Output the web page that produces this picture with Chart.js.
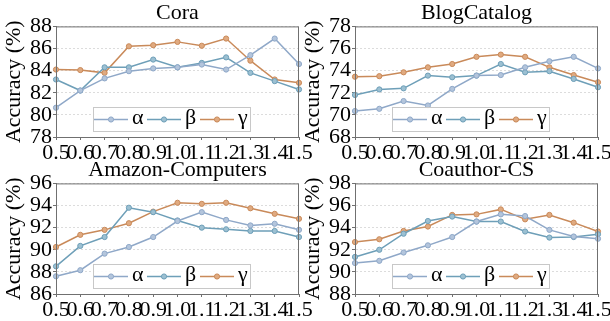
<!DOCTYPE html>
<html>
<head>
<meta charset="utf-8">
<script src="https://cdn.jsdelivr.net/npm/chart.js@4/dist/chart.umd.min.js"></script>
<style>
  html, body { margin: 0; padding: 0; background: #fff; overflow: hidden; }
  #wrap { position: relative; width: 610px; height: 321px; }
  .panel { position: absolute; width: 315px; height: 160px; }
</style>
</head>
<body>
<div id="wrap">
  <div class="panel" style="left:0;top:0"><canvas id="c1"></canvas></div>
  <div class="panel" style="left:299px;top:0"><canvas id="c2"></canvas></div>
  <div class="panel" style="left:0;top:157px"><canvas id="c3"></canvas></div>
  <div class="panel" style="left:299px;top:157px"><canvas id="c4"></canvas></div>
</div>
<script>
// x values (shared by all panels)
const xLabels = ['0.5', '0.6', '0.7', '0.8', '0.9', '1.0', '1.1', '1.2', '1.3', '1.4', '1.5'];
const seriesNames = ['α', 'β', 'γ'];

// Cora
const coraAlpha = [80.65, 82.2, 83.3, 83.95, 84.2, 84.3, 84.55, 84.1, 85.4, 86.9, 84.6];
const coraBeta  = [83.2, 82.2, 84.3, 84.3, 85.0, 84.3, 84.7, 85.2, 83.8, 83.05, 82.3];
const coraGamma = [84.1, 84.05, 83.8, 86.2, 86.3, 86.6, 86.25, 86.9, 84.9, 83.2, 82.9];

// BlogCatalog
const blogAlpha = [70.35, 70.55, 71.25, 70.85, 72.35, 73.55, 73.6, 74.3, 74.85, 75.25, 74.2];
const blogBeta  = [71.8, 72.3, 72.4, 73.55, 73.4, 73.55, 74.6, 73.85, 73.95, 73.25, 72.5];
const blogGamma = [73.45, 73.5, 73.85, 74.3, 74.6, 75.25, 75.45, 75.25, 74.3, 73.6, 72.95];

// Amazon-Computers
const amazonAlpha = [87.6, 88.15, 89.65, 90.25, 91.15, 92.6, 93.4, 92.7, 92.2, 92.35, 91.8];
const amazonBeta  = [88.5, 90.35, 91.15, 93.8, 93.4, 92.65, 92.0, 91.85, 91.7, 91.7, 91.15];
const amazonGamma = [90.25, 91.35, 91.8, 92.4, 93.45, 94.25, 94.15, 94.25, 93.75, 93.25, 92.8];

// Coauthor-CS
const csAlpha = [90.8, 91.0, 91.75, 92.4, 93.15, 94.55, 95.2, 95.05, 93.8, 93.2, 93.0];
const csBeta  = [91.35, 92.0, 93.45, 94.6, 95.0, 94.55, 94.55, 93.65, 93.1, 93.15, 93.4];
const csGamma = [92.7, 92.95, 93.7, 94.1, 95.15, 95.2, 95.65, 94.75, 95.15, 94.45, 93.65];

const colors = ['#8fa8c8', '#6e9fb8', '#c98a5a'];
const fills  = ['#b3c5dc', '#9cc0d2', '#e0aa80'];

Chart.defaults.font.family = "'Liberation Serif', 'Times New Roman', serif";
Chart.defaults.color = '#000';

// frame around the plot area
const frame = {
  id: 'frame',
  afterDraw(chart) {
    const { ctx, chartArea: a } = chart;
    ctx.save();
    ctx.strokeStyle = '#707070';
    ctx.lineWidth = 1;
    ctx.strokeRect(a.left + 0.5, a.top + 0.5, a.right - a.left - 1, a.bottom - a.top);
    ctx.restore();
  }
};

// boxed legend inside the plot, bottom middle
const boxLegend = {
  id: 'boxLegend',
  afterDraw(chart) {
    const { ctx, chartArea: a } = chart;
    const x0 = a.left + 37, y0 = a.bottom - 30, w = 157, h = 24;
    ctx.save();
    ctx.fillStyle = 'rgba(255,255,255,0.9)';
    ctx.fillRect(x0, y0, w, h);
    ctx.strokeStyle = '#c8c8c8';
    ctx.lineWidth = 1;
    ctx.strokeRect(x0 + 0.5, y0 + 0.5, w, h);
    const cy = y0 + h / 2 + 0.5;
    let x = x0 + 1;
    chart.data.datasets.forEach(ds => {
      ctx.strokeStyle = ds.borderColor;
      ctx.lineWidth = 1.5;
      ctx.beginPath();
      ctx.moveTo(x, cy);
      ctx.lineTo(x + 34, cy);
      ctx.stroke();
      ctx.beginPath();
      ctx.arc(x + 17, cy, 2.6, 0, Math.PI * 2);
      ctx.fillStyle = ds.pointBackgroundColor;
      ctx.fill();
      ctx.lineWidth = 1;
      ctx.stroke();
      ctx.fillStyle = '#000';
      ctx.font = "22px 'Liberation Serif'";
      ctx.textBaseline = 'middle';
      ctx.fillText(ds.label, x + 38, cy - 1);
      x += 53;
    });
    ctx.restore();
  }
};

function makePanel(id, title, a, b, g, yMin, yMax) {
  const data = [a, b, g];
  new Chart(document.getElementById(id), {
    type: 'line',
    data: {
      labels: xLabels,
      datasets: data.map((d, i) => ({
        label: seriesNames[i],
        data: d,
        borderColor: colors[i],
        backgroundColor: fills[i],
        pointBackgroundColor: fills[i],
        pointBorderColor: colors[i],
        pointRadius: 2.6,
        pointBorderWidth: 1,
        borderWidth: 1.5,
        tension: 0
      }))
    },
    options: {
      responsive: true,
      maintainAspectRatio: false,
      animation: false,
      layout: { padding: { left: 0, right: 16, top: 0, bottom: 0 } },
      plugins: {
        legend: { display: false },
        tooltip: { enabled: false },
        title: {
          display: true,
          fullSize: false,
          text: title,
          font: { size: 22, weight: 'normal' },
          color: '#000',
          padding: { top: 0, bottom: 0 }
        }
      },
      scales: {
        x: {
          offset: false,
          grid: { drawOnChartArea: false, tickLength: 3, tickColor: '#707070' },
          border: { color: '#707070' },
          ticks: { autoSkip: false, maxRotation: 0, minRotation: 0, padding: 0, font: { size: 22 } },
          afterFit(scale) { scale.height = 23; }
        },
        y: {
          min: yMin,
          max: yMax,
          grid: { color: '#dcdcdc', tickLength: 3, tickColor: '#707070' },
          border: { color: '#707070', dash: [2, 2] },
          ticks: { stepSize: 2, autoSkip: false, padding: 1, font: { size: 22 } },
          title: {
            display: true,
            text: 'Accuracy (%)',
            font: { size: 22 },
            padding: { top: 1, bottom: 0 }
          },
          afterFit(scale) { scale.width = 56; }
        }
      }
    },
    plugins: [frame, boxLegend]
  });
}

makePanel('c1', 'Cora', coraAlpha, coraBeta, coraGamma, 78, 88);
makePanel('c2', 'BlogCatalog', blogAlpha, blogBeta, blogGamma, 68, 78);
makePanel('c3', 'Amazon-Computers', amazonAlpha, amazonBeta, amazonGamma, 86, 96);
makePanel('c4', 'Coauthor-CS', csAlpha, csBeta, csGamma, 88, 98);
</script>
</body>
</html>
